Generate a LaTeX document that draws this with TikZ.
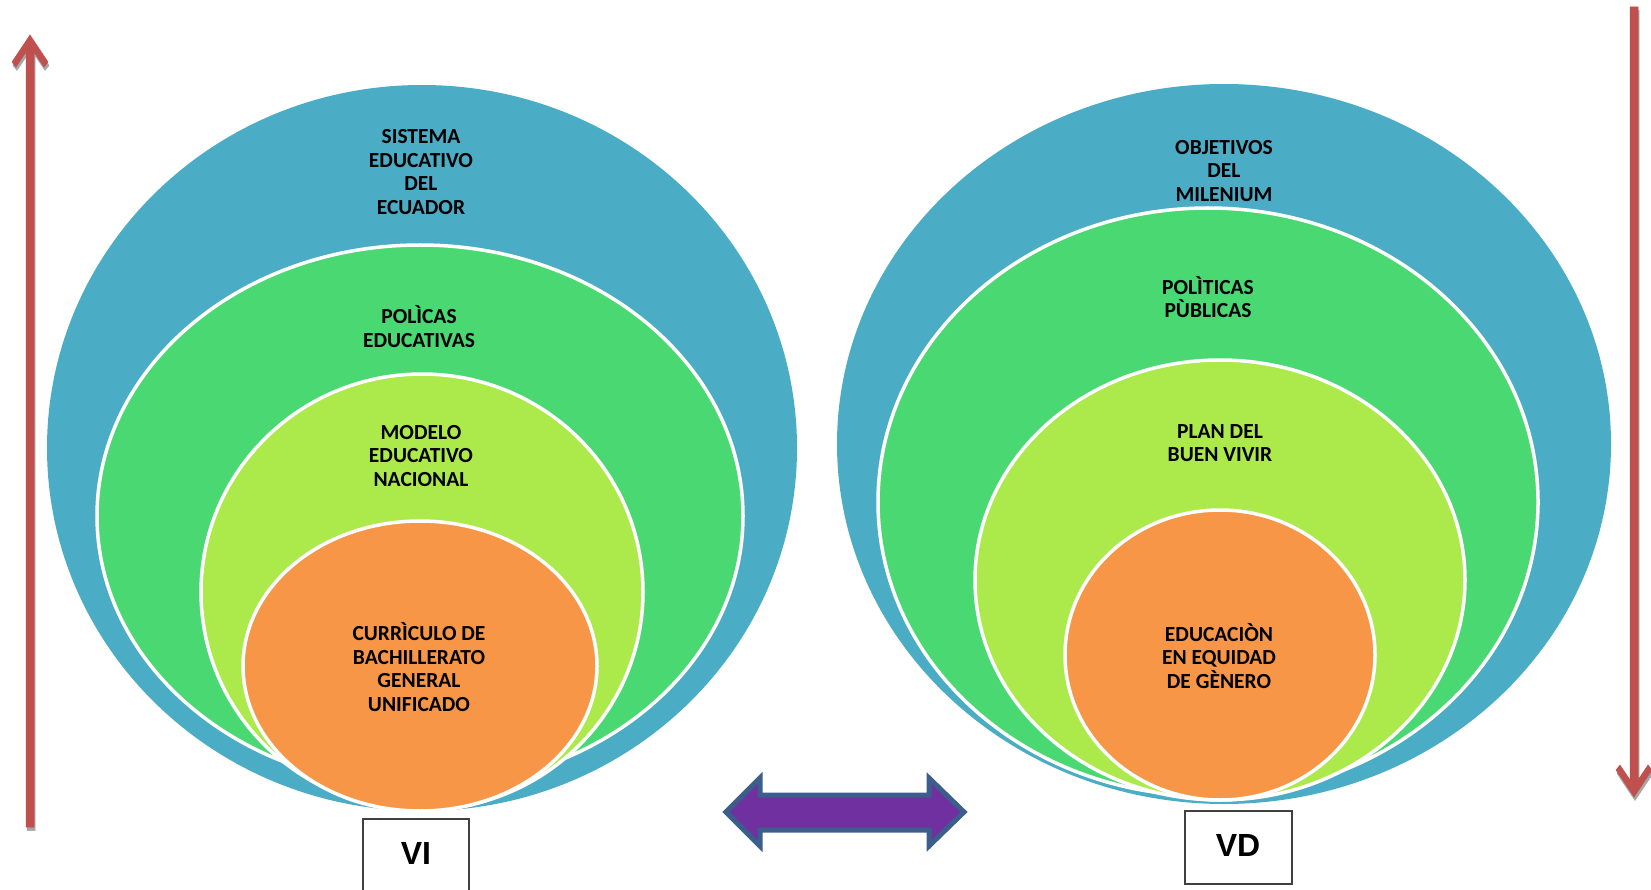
\documentclass[tikz,border=0pt]{standalone}
\usepackage{fontspec}
\setmainfont{Carlito}
\newfontfamily\arialb{Liberation Sans}
\definecolor{cblue}{HTML}{4BACC6}
\definecolor{cgreen}{HTML}{4AD872}
\definecolor{clime}{HTML}{ACE94A}
\definecolor{corange}{HTML}{F79646}
\definecolor{cred}{HTML}{C0504D}
\definecolor{cpurple}{HTML}{7030A0}
\definecolor{cborder}{HTML}{3B5E8C}
\definecolor{cshadow}{HTML}{A6A6A6}
\tikzset{
  ell/.style={draw=white, line width=3.5pt},
  txt/.style={align=center, font=\fontsize{21.5}{23.5}\selectfont\bfseries, text=black, inner sep=0pt},
  lbl/.style={font=\arialb\fontsize{32}{36}\selectfont\bfseries, text=black, inner sep=0pt},
  vbox/.style={draw=black!75, line width=1.5pt, fill=white},
  redarrow/.style={fill=cred, draw=cred, line width=0.5pt, line join=round},
  shadowarrow/.style={fill=cshadow, draw=cshadow, line width=0.5pt, line join=round},
}
\begin{document}
\begin{tikzpicture}[x=1pt,y=-1pt]
\useasboundingbox (0,0) rectangle (1651,890);
% ---------- left group ----------
\fill[cblue] (422,448) ellipse [x radius=375pt, y radius=363pt];
\draw[ell, fill=cgreen] (420,516) ellipse [x radius=323pt, y radius=271pt];
\draw[ell, fill=clime] (422,592) ellipse [x radius=221pt, y radius=218pt];
\draw[ell, fill=corange] (420,666) ellipse [x radius=177pt, y radius=145pt];
\node[txt] (l1) at (421,172) {SISTEMA\\EDUCATIVO\\DEL\\ECUADOR};
\node[txt] (l2) at (419,326.5) {POLÌCAS\\EDUCATIVAS};
\node[txt] (l3) at (421,456) {MODELO\\EDUCATIVO\\NACIONAL};
\node[txt] (l4) at (419,667) {CURRÌCULO DE\\BACHILLERATO\\GENERAL\\UNIFICADO};
% ---------- right group ----------
\fill[cblue] (1224,444) ellipse [x radius=387pt, y radius=360pt];
\draw[ell, fill=cgreen] (1208,502) ellipse [x radius=330pt, y radius=294pt];
\draw[ell, fill=clime] (1220,580) ellipse [x radius=245pt, y radius=220pt];
\draw[ell, fill=corange] (1220,655) ellipse [x radius=155pt, y radius=145pt];
\node[txt] (r1) at (1224,171) {OBJETIVOS\\DEL\\MILENIUM};
\node[txt] (r2) at (1208,297) {POLÌTICAS\\PÙBLICAS};
\node[txt] (r3) at (1220,443) {PLAN DEL\\BUEN VIVIR};
\node[txt] (r4) at (1219,656) {EDUCACIÒN\\EN EQUIDAD\\DE GÈNERO};
% ---------- VI / VD boxes ----------
\draw[vbox] (363,819) rectangle (469,900);
\node[lbl] (vi) at (416,853) {VI};
\node[vbox, minimum width=107pt, minimum height=73pt, inner sep=0pt] (vdbox) at (1238.5,847.5) {};
\node[lbl] (vd) at (1238,845) {VD};
% ---------- double arrow ----------
\draw[fill=cpurple, draw=cborder, line width=5pt, line join=miter]
  (726,812) -- (760,778) -- (760,795) -- (929,795) -- (929,778) -- (964,812)
  -- (929,846) -- (929,830) -- (760,830) -- (760,846) -- cycle;
% ---------- left red arrow (up) ----------
\begin{scope}[shift={(1,3.5)}]
\path[shadowarrow] (26,827) -- (26,52) -- (16,67) -- (12,62) -- (30,35) -- (48,62) -- (44,67) -- (34,52) -- (34,827) -- cycle;
\end{scope}
\path[redarrow] (26,827) -- (26,52) -- (16,67) -- (12,62) -- (30,35) -- (48,62) -- (44,67) -- (34,52) -- (34,827) -- cycle;
% ---------- right red arrow (down) ----------
\begin{scope}[shift={(1,3.5)}]
\path[shadowarrow] (1630,7) -- (1630,780) -- (1620,765) -- (1616,770) -- (1634,797) -- (1652,770) -- (1648,765) -- (1638,780) -- (1638,7) -- cycle;
\end{scope}
\path[redarrow] (1630,7) -- (1630,780) -- (1620,765) -- (1616,770) -- (1634,797) -- (1652,770) -- (1648,765) -- (1638,780) -- (1638,7) -- cycle;
\end{tikzpicture}
\end{document}
